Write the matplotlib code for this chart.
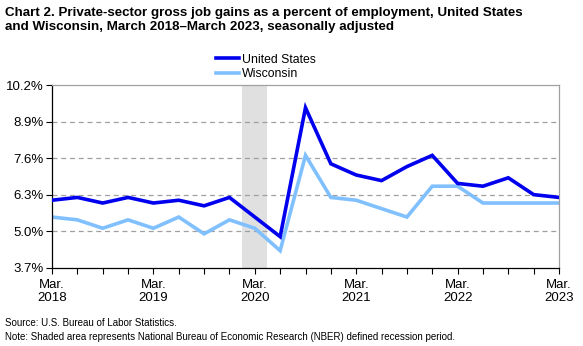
import matplotlib
matplotlib.use("Agg")
import matplotlib.pyplot as plt
from matplotlib.ticker import FixedLocator

plt.rcParams['font.family'] = ['Liberation Sans', 'DejaVu Sans']

quarters = list(range(21))
tick_pos = [0, 4, 8, 12, 16, 20]
tick_labels = ["Mar.\n2018", "Mar.\n2019", "Mar.\n2020", "Mar.\n2021", "Mar.\n2022", "Mar.\n2023"]
us = [6.1, 6.2, 6.0, 6.2, 6.0, 6.1, 5.9, 6.2, 5.5, 4.8, 9.4, 7.4, 7.0, 6.8, 7.3, 7.7,
      6.7, 6.6, 6.9, 6.3, 6.2]
wi = [5.5, 5.4, 5.1, 5.4, 5.1, 5.5, 4.9, 5.4, 5.1, 4.3, 7.7, 6.2, 6.1, 5.8, 5.5, 6.6,
      6.6, 6.0, 6.0, 6.0, 6.0]
y_ticks = [3.7, 5.0, 6.3, 7.6, 8.9, 10.2]
recession = (7.5, 8.5)

fig = plt.figure(figsize=(5.83, 3.46), dpi=100)
ax = fig.add_axes([52/583, 1-267.5/346, (559-52)/583, (267.5-85.3)/346])

ax.axvspan(recession[0], recession[1], color='#e0e0e0', lw=0, zorder=0)
for v in y_ticks[1:-1]:
    ax.axhline(v, color='#a0a0a0', lw=0.9, ls=(0, (4, 3)), zorder=1)

ax.plot(quarters, us, color='#0000ee', lw=2.6, label='United States', zorder=3,
        solid_joinstyle='miter')
ax.plot(quarters, wi, color='#80c0ff', lw=2.6, label='Wisconsin', zorder=2,
        solid_joinstyle='miter')

ax.set_xlim(0, 20)
ax.set_ylim(3.7, 10.2)
ax.set_yticks(y_ticks)
ax.set_yticklabels([f"{v:.1f}%" for v in y_ticks])
ax.set_xticks(tick_pos)
ax.set_xticklabels(tick_labels)
ax.xaxis.set_minor_locator(FixedLocator(quarters))
ax.tick_params(axis='x', which='both', direction='out', length=4, width=0.8,
               colors='black', labelsize=9.5, pad=4)
ax.tick_params(axis='y', direction='out', length=4, width=0.8, labelsize=9.5, pad=2)

for s in ['top', 'right']:
    ax.spines[s].set_color('#a0a0a0')
    ax.spines[s].set_linewidth(0.9)
for s in ['left', 'bottom']:
    ax.spines[s].set_color('black')
    ax.spines[s].set_linewidth(0.9)

fig.text(5/583, 1-7/346, "Chart 2. Private-sector gross job gains as a percent of employment, United States\nand Wisconsin, March 2018\u2013March 2023, seasonally adjusted",
         fontsize=9.6, fontweight='bold', va='top', ha='left', linespacing=1.2)

ax.legend(loc='lower left', bbox_to_anchor=(216/583, 1-80/346), bbox_transform=fig.transFigure,
          frameon=False, fontsize=8.8, handlelength=1.9, handletextpad=0.2,
          labelspacing=0.2, borderpad=0, borderaxespad=0)

fig.text(5/583, 1-323/346, "Source: U.S. Bureau of Labor Statistics.", fontsize=7, va='center')
fig.text(5/583, 1-337/346, "Note: Shaded area represents National Bureau of Economic Research (NBER) defined recession period.",
         fontsize=7, va='center')

fig.savefig("out.png", dpi=100)
